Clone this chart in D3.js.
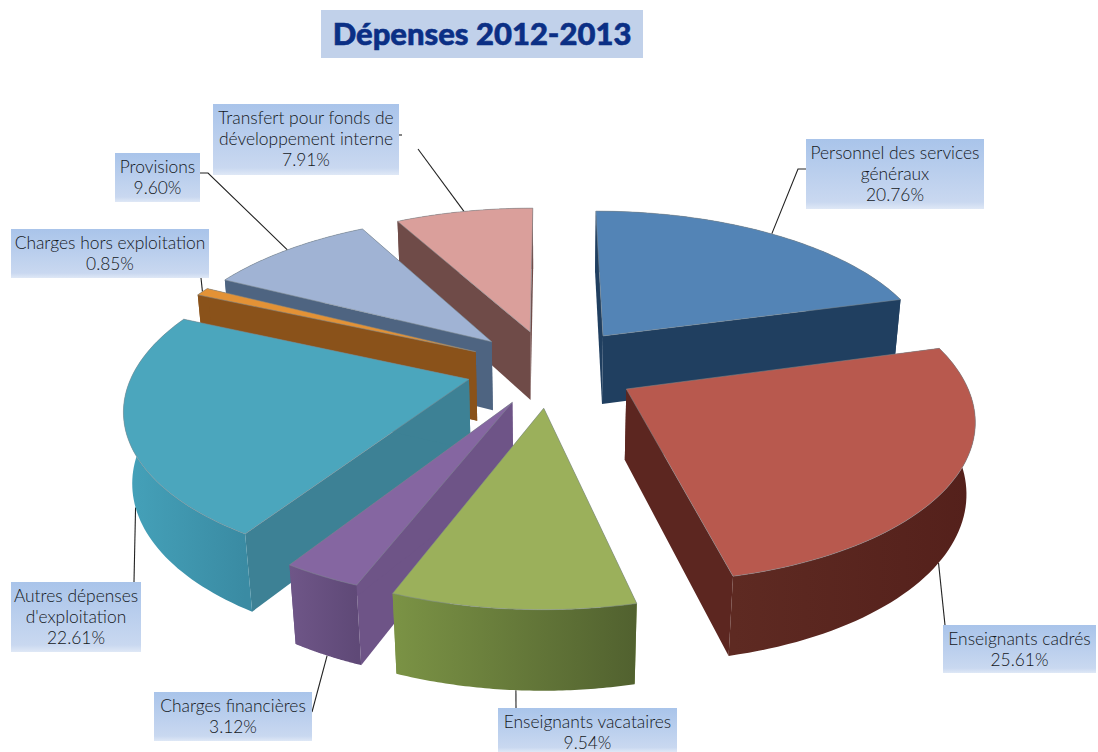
<!DOCTYPE html>
<html lang="fr">
<head>
<meta charset="utf-8">
<script src="https://cdnjs.cloudflare.com/ajax/libs/d3/7.8.5/d3.min.js"></script>
<style>
  html, body { margin: 0; padding: 0; background: #fff; }
  svg { display: block; }
  text { font-family: Lato, "Noto Sans", sans-serif; fill: #14181c; }
</style>
</head>
<body>
<svg id="chart" width="1098" height="752"></svg>
<script>
// Budget shares, in clockwise order from twelve o'clock
const categories = [
  "Personnel des services généraux",
  "Enseignants cadrés",
  "Enseignants vacataires",
  "Charges financières",
  "Autres dépenses d'exploitation",
  "Charges hors exploitation",
  "Provisions",
  "Transfert pour fonds de développement interne"
];
const shares = [20.76, 25.61, 9.54, 3.12, 22.61, 0.85, 9.60, 7.91];
const titleText = "Dépenses 2012-2013";

// How far each wedge is pulled out of the pie, in pie radii
const explode = [0.27, 0.26, 0.25, 0.24, 0.25, 0.25, 0.25, 0.25];

// Face colours: top, cut side, outer wall light and dark ends
const topFill  = ["#5384b6", "#b8594e", "#9bb05b", "#8566a1", "#4ba6bd", "#e39236", "#a0b3d4", "#da9f9b"];
const cutFill  = ["#203f60", "#5c2620", "#7a9145", "#6e5487", "#3d8195", "#8a521a", "#4e6481", "#6f4b48"];
const wallFrom = ["#203f60", "#5e2a22", "#7b9345", "#6f5688", "#45a2ba", "#8a521a", "#4e6481", "#6f4b48"];
const wallTo   = ["#203f60", "#54201b", "#51612f", "#5f4977", "#3a8ba3", "#8a521a", "#4e6481", "#6f4b48"];

// Label boxes: left, top, right, bottom, text lines
const labelLines = [
  ["Personnel des services", "généraux", "20.76%"],
  ["Enseignants cadrés", "25.61%"],
  ["Enseignants vacataires", "9.54%"],
  ["Charges financières", "3.12%"],
  ["Autres dépenses", "d'exploitation", "22.61%"],
  ["Charges hors exploitation", "0.85%"],
  ["Provisions", "9.60%"],
  ["Transfert pour fonds de", "développement interne", "7.91%"]
];
const labelBoxes = [
  [806, 139, 984, 209],
  [943, 625, 1096, 673],
  [498, 708, 677, 752],
  [154, 692, 312, 741],
  [11, 582, 141, 652],
  [11, 229, 209, 278],
  [115, 153, 200, 202],
  [213, 104, 399, 175]
];
// Leader lines: points leaving the box, then the position along the wedge's arc and which rim it meets
const leaderPaths = [
  { from: [[806, 169], [798, 169]], along: 0.5, rim: "top" },
  { from: [[945, 625]], along: 0.53, rim: "bottom" },
  { from: [[516, 708]], along: 0.49, rim: "bottom" },
  { from: [[312, 712]], along: 0.5, rim: "bottom" },
  { from: [[134, 582]], along: 0.47, rim: "bottom" },
  { from: [[201, 278]], along: 0.5, rim: "top" },
  { from: [[200, 173], [208, 173]], along: 0.5, rim: "top" },
  { from: [[418, 149]], along: 0.5, rim: "top" }
];

// Camera looking down on the pie
const cam = { cx: 550, cy: 368, focal: 1840, dist: 5.5, tilt: 62.5 * Math.PI / 180, height: 0.24 };
const sinT = Math.sin(cam.tilt), cosT = Math.cos(cam.tilt);

function project(X, Y, Z) {
  const w = cam.dist - Y * sinT - Z * cosT;
  return [cam.cx + cam.focal * X / w, cam.cy + cam.focal * (Y * cosT - Z * sinT) / w];
}

const svg = d3.select("#chart");
const defs = svg.append("defs");
const line = d3.line();

const arcs = d3.pie().sort(null)(shares).map((a, i) => {
  const mid = (a.startAngle + a.endAngle) / 2;
  const ox = explode[i] * Math.sin(mid), oy = -explode[i] * Math.cos(mid);
  const at = (angle, r, z) => project(ox + r * Math.sin(angle), oy - r * Math.cos(angle), z);
  const steps = d3.range(0, 61).map(k => a.startAngle + (a.endAngle - a.startAngle) * k / 60);
  return { i, a, mid, oy, at, steps, depth: oy - Math.cos(mid) * 0.5 };
});

// Leader lines run underneath the wedges
const leaders = svg.append("g").attr("fill", "none").attr("stroke", "#222").attr("stroke-width", 1.1);
arcs.forEach(s => {
  const l = leaderPaths[s.i];
  const angle = s.a.startAngle + (s.a.endAngle - s.a.startAngle) * l.along;
  leaders.append("path").attr("d", line([...l.from, s.at(angle, 1, l.rim === "top" ? 0 : -cam.height)]));
});
// Short stub beside the transfer label
leaders.append("path").attr("d", "M399,135H402");

// Wedges painted from the back of the pie to the front
const wedges = svg.append("g");
arcs.slice().sort((p, q) => d3.ascending(p.depth, q.depth)).forEach(s => {
  const g = wedges.append("g");
  const h = -cam.height;
  const topRim = s.steps.map(t => s.at(t, 1, 0));
  const lowRim = s.steps.map(t => s.at(t, 1, h));

  const xs = d3.extent(topRim, d => d[0]);
  const id = "wall" + s.i;
  const grad = defs.append("linearGradient").attr("id", id)
    .attr("gradientUnits", "userSpaceOnUse")
    .attr("x1", xs[0]).attr("x2", xs[1]).attr("y1", 0).attr("y2", 0);
  grad.append("stop").attr("offset", 0).attr("stop-color", wallFrom[s.i]);
  grad.append("stop").attr("offset", 1).attr("stop-color", wallTo[s.i]);

  [s.a.startAngle, s.a.endAngle].forEach(t => {
    g.append("path")
      .attr("d", line([s.at(t, 0, 0), s.at(t, 1, 0), s.at(t, 1, h), s.at(t, 0, h)]) + "Z")
      .attr("fill", cutFill[s.i]);
  });

  g.append("path").attr("d", line([...topRim, ...lowRim.slice().reverse()]) + "Z").attr("fill", `url(#${id})`);

  g.append("path")
    .attr("d", line([s.at(0, 0, 0), ...topRim]) + "Z")
    .attr("fill", topFill[s.i])
    .attr("stroke", "#7f8a8f").attr("stroke-opacity", 0.55).attr("stroke-width", 1)
    .attr("stroke-linejoin", "round");
});

// Label box fill
const boxGrad = defs.append("linearGradient").attr("id", "boxFill").attr("x1", 0).attr("x2", 0).attr("y1", 0).attr("y2", 1);
[[0, "#a9c4ea"], [0.9, "#c9d8f0"], [1, "#dfe8f6"]].forEach(([o, c]) =>
  boxGrad.append("stop").attr("offset", o).attr("stop-color", c));

labelBoxes.forEach((b, i) => {
  svg.append("rect").attr("x", b[0]).attr("y", b[1]).attr("width", b[2] - b[0]).attr("height", b[3] - b[1])
    .attr("fill", "url(#boxFill)");
  const lines = labelLines[i];
  const mx = (b[0] + b[2]) / 2;
  lines.forEach((t, k) => {
    svg.append("text").attr("x", mx).attr("y", b[1] + 20 + k * 21)
      .attr("text-anchor", "middle").attr("font-size", 17.4).attr("font-weight", 300).text(t);
  });
});

// Title banner
svg.append("rect").attr("x", 321).attr("y", 10).attr("width", 322).attr("height", 48).attr("fill", "#c1d1ea");
svg.append("text").attr("x", 482).attr("y", 45).attr("text-anchor", "middle")
  .attr("font-size", 31).attr("font-weight", 900).style("fill", "#0b2f85")
  .style("stroke", "#0b2f85").style("stroke-width", 0.6).text(titleText);
</script>
</body>
</html>
